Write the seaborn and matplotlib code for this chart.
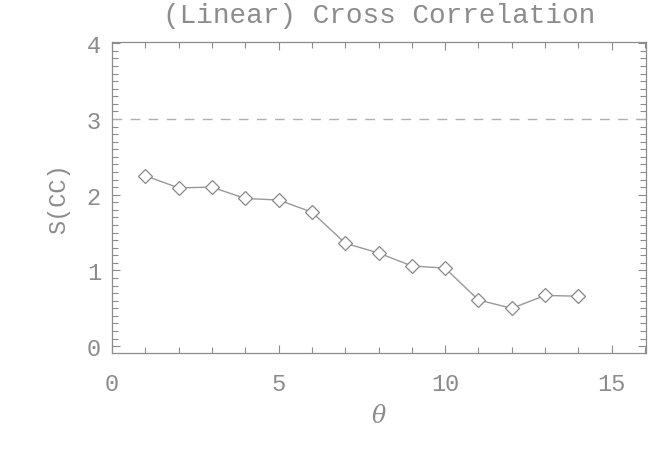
import matplotlib
matplotlib.use("Agg")
import matplotlib.pyplot as plt
import seaborn as sns
import pandas as pd
from matplotlib.ticker import MultipleLocator

theta = [1, 2, 3, 4, 5, 6, 7, 8, 9, 10, 11, 12, 13, 14]
scc = [2.25, 2.09, 2.10, 1.95, 1.93, 1.77, 1.36, 1.23, 1.06, 1.03, 0.61, 0.50, 0.67, 0.66]
threshold = 3.0
title = "(Linear) Cross Correlation"
xlabel = "θ"
ylabel = "S(CC)"

df = pd.DataFrame({"theta": theta, "scc": scc})

sns.set_style("white")
plt.rcParams["font.family"] = ["Liberation Mono", "DejaVu Sans Mono"]
gray = "#8c8c8c"

fig = plt.figure(figsize=(6.69, 4.56), dpi=100)
ax = fig.add_axes([112/669, 1 - 354/456, (646-112)/669, (354-42.7)/456])

sns.lineplot(data=df, x="theta", y="scc", ax=ax, color="#999999", linewidth=1.0,
             marker="D", markersize=7, markerfacecolor="white",
             markeredgecolor="#888888", markeredgewidth=0.9)
ax.axhline(threshold, color="#b0b0b0", linestyle=(0, (7, 6)), linewidth=1.0)

ax.set_xlim(0, 16.03)
ax.set_ylim(-0.09, 4.02)
ax.xaxis.set_major_locator(MultipleLocator(5))
ax.xaxis.set_minor_locator(MultipleLocator(1))
ax.yaxis.set_major_locator(MultipleLocator(1))
ax.yaxis.set_minor_locator(MultipleLocator(0.1))
ax.tick_params(which="both", direction="in", top=True, right=True,
               bottom=True, left=True, color=gray, width=0.8,
               labelcolor=gray, labelsize=17)
ax.tick_params(which="major", length=6)
ax.tick_params(which="minor", length=4)
ax.tick_params(axis="x", which="major", pad=14)
ax.tick_params(axis="y", which="major", pad=8)
for s in ax.spines.values():
    s.set_color(gray)
    s.set_linewidth(0.9)

ax.set_title(title, color=gray, fontsize=20, pad=14)
ax.set_xlabel(xlabel, color=gray, fontsize=17, fontfamily="DejaVu Serif",
              style="italic", labelpad=6)
ax.set_ylabel(ylabel, color=gray, fontsize=17, labelpad=12)

fig.savefig("out.png", dpi=100, facecolor="white")
